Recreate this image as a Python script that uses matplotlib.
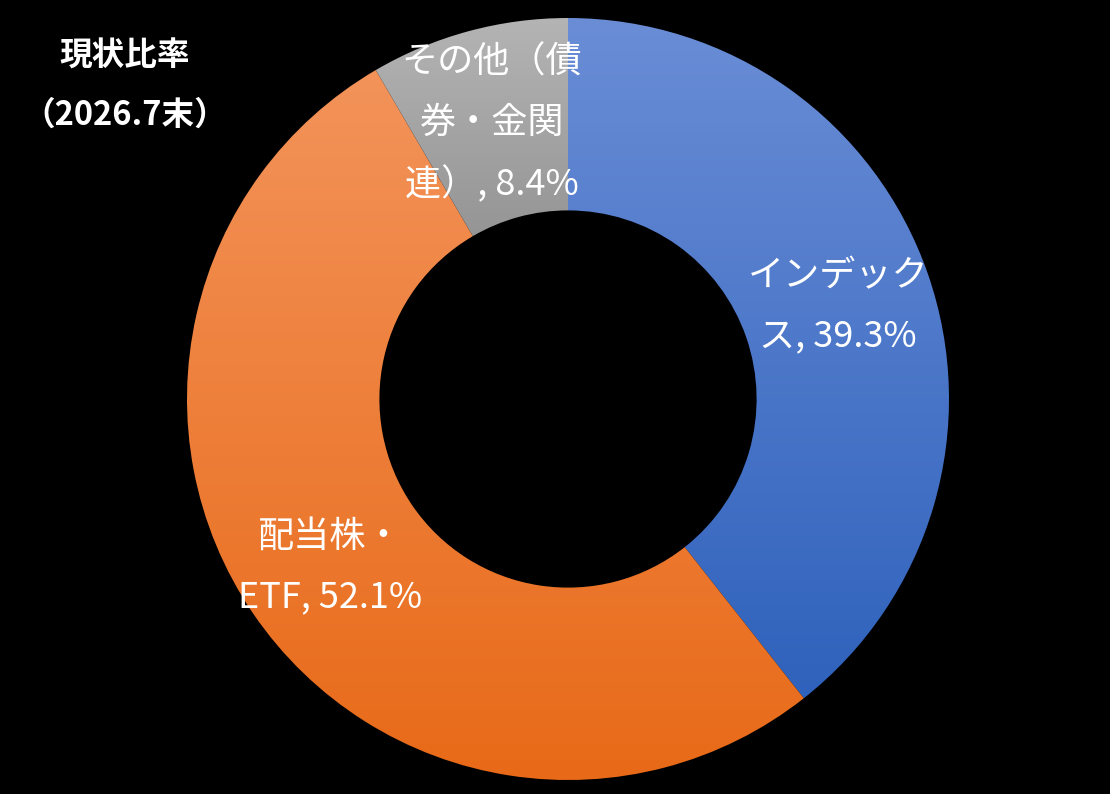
import matplotlib
matplotlib.use('Agg')
import matplotlib.pyplot as plt
import numpy as np
from matplotlib.colors import LinearSegmentedColormap

plt.rcParams['font.family'] = ['Noto Sans CJK JP', 'DejaVu Sans']

# data
labels = ['インデック\nス, 39.3%', '配当株・\nETF, 52.1%', 'その他（債\n券・金関\n連）, 8.4%']
values = [39.3, 52.1, 8.4]
# gradient colours per slice (top, bottom)
grad_top = ['#6A8DD6', '#F3935A', '#B4B4B4']
grad_bottom = ['#2F62BC', '#E86A18', '#959595']
title_lines = '現状比率\n（2026.7末）'

W, H = 1110, 794
cx, cy, R = 568, 399, 381

fig = plt.figure(figsize=(W / 100, H / 100), dpi=100, facecolor='black')
ax = fig.add_axes([0, 0, 1, 1])
ax.set_facecolor('black')


def px(x, y):
    return (x - cx) / R, (cy - y) / R


wedges, _ = ax.pie(values, startangle=90, counterclock=False, radius=1.0,
                   wedgeprops=dict(width=0.505, edgecolor='none'))

for w, ct, cb in zip(wedges, grad_top, grad_bottom):
    w.set_facecolor('none')
    ext = w.get_path().get_extents()
    cmap = LinearSegmentedColormap.from_list('g', [ct, cb])
    grad = np.linspace(0, 1, 256).reshape(-1, 1)
    im = ax.imshow(grad, cmap=cmap, aspect='auto', origin='upper',
                   extent=[ext.x0, ext.x1, ext.y0, ext.y1], interpolation='bilinear')
    im.set_clip_path(w)

# slice labels
lab_pos = [(838, 306), (330, 567), (492, 124)]
for lab, (x, y) in zip(labels, lab_pos):
    dx, dy = px(x, y)
    ax.text(dx, dy, lab, color='white', fontsize=26, ha='center', va='center',
            linespacing=1.85)

tx, ty = px(125, 86)
ax.text(tx, ty, title_lines, color='white', fontsize=23.5, fontweight='bold',
        ha='center', va='center', linespacing=2.0)

x0, _ = px(0, 0)
x1, _ = px(W, 0)
_, y0 = px(0, H)
_, y1 = px(0, 0)
ax.set_xlim(x0, x1)
ax.set_ylim(y0, y1)
ax.set_aspect('auto')
ax.axis('off')

fig.savefig('out.png', dpi=100, facecolor='black')
